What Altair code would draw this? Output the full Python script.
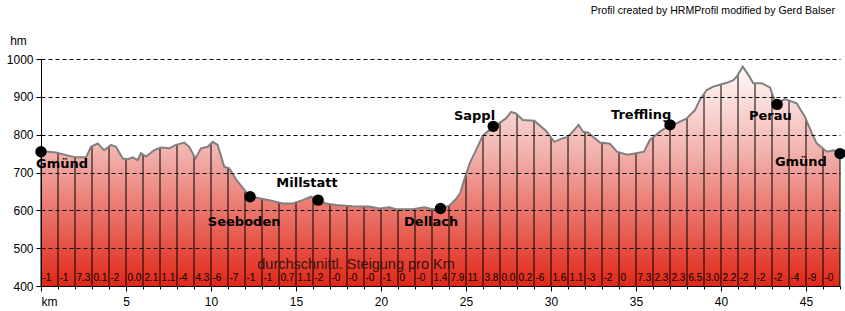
import altair as alt
import pandas as pd
import numpy as np

# ---- profile (km, elevation in m) ----
prof_km = [0.0, 0.88, 1.66, 2.06, 2.65, 2.94, 3.34, 3.71, 4.12, 4.41,
           4.81, 5.1, 5.39, 5.69, 5.88, 6.18, 6.66, 7.06, 7.55, 7.94,
           8.43, 8.72, 9.08, 9.41, 9.81, 10.1, 10.39, 10.78, 11.08, 11.47,
           11.82, 12.25, 12.84, 13.43, 14.22, 14.81, 15.39, 15.88, 16.28, 16.76,
           17.35, 18.34, 19.31, 19.9, 20.49, 20.88, 21.86, 22.55, 23.04, 23.53,
           24.06, 24.41, 24.65, 24.94, 25.24, 25.59, 25.98, 26.37, 26.66, 27.06,
           27.35, 27.65, 27.94, 28.34, 29.02, 29.71, 30.19, 30.59, 30.98, 31.28,
           31.62, 31.88, 32.18, 32.88, 33.47, 33.88, 34.47, 35.0, 35.47, 35.82,
           36.41, 37.0, 37.39, 37.98, 38.47, 38.76, 39.16, 39.55, 40.34, 40.72,
           40.92, 41.28, 41.61, 41.9, 42.39, 42.88, 43.08, 43.28, 43.76, 44.45,
           44.94, 45.34, 45.63, 46.22, 46.61, 47.0]
prof_elev = [757, 753, 744, 740, 740, 768, 777, 759, 773, 768,
             737, 735, 740, 733, 751, 742, 759, 766, 764, 773,
             779, 768, 737, 764, 768, 781, 773, 715, 711, 682,
             662, 638, 632, 627, 618, 618, 627, 636, 627, 618,
             614, 611, 610, 605, 608, 603, 603, 608, 603, 603,
             614, 630, 645, 687, 727, 759, 797, 812, 823, 834,
             843, 860, 856, 839, 837, 810, 781, 789, 794, 808,
             826, 808, 805, 779, 776, 755, 747, 751, 755, 786,
             808, 826, 830, 843, 865, 892, 918, 927, 937, 944,
             953, 980, 958, 936, 936, 925, 900, 883, 894, 883,
             847, 804, 777, 755, 759, 751]

# ---- average gradient per km (labels) ----
grad_labels = ["-1", "-1", "7.3", "0.1", "-2", "0.0", "2.1", "1.1", "-4", "4.3",
               "-6", "-7", "-1", "-1", "0.7", "1.1", "-2", "-0", "-0", "-0",
               "-1", "0", "-0", "1.4", "7.9", "11", "3.8", "0.0", "0.2", "-6",
               "1.6", "1.1", "-3", "-2", "0", "7.3", "2.3", "2.3", "6.5", "3.0",
               "2.2", "-2", "-2", "-2", "-4", "-9", "-0"]

# ---- places ----
place_names = ["Gmünd", "Seeboden", "Millstatt", "Dellach", "Sappl", "Treffling", "Perau", "Gmünd"]
place_km = [0.0, 12.3, 16.3, 23.5, 26.6, 37.0, 43.3, 47.0]
place_elev = [755, 636, 627, 605, 822, 826, 880, 750]
label_km = [1.24, 11.95, 15.65, 22.95, 25.5, 35.3, 42.9, 44.7]
label_elev = [722, 568, 672, 568, 849, 853, 849, 728]

prof = pd.DataFrame({"km": prof_km, "elev": prof_elev})
km_int = np.arange(0, 48)
rules = pd.DataFrame({"km": km_int, "elev": np.interp(km_int, prof_km, prof_elev)})
grad = pd.DataFrame({"km": np.arange(0, 47), "lab": grad_labels})
places = pd.DataFrame({"km": place_km, "elev": place_elev, "name": place_names})
labels = pd.DataFrame({"km": label_km, "elev": label_elev, "name": place_names})
note = pd.DataFrame({"t": ["durchschnittl. Steigung pro Km"]})

x_scale = alt.Scale(domain=[0, 47], nice=False, zero=False)
y_scale = alt.Scale(domain=[400, 1000], nice=False, zero=False)

x_axis = alt.Axis(
    values=list(range(48)),
    labelExpr="datum.value == 0 ? 'km' : (datum.value % 5 == 0 ? datum.label : '')",
    tickSize={"condition": {"test": "datum.value % 5 == 0", "value": 5}, "value": 3},
    grid=False, domainColor="black", tickColor="black",
    labelFont="Liberation Sans", labelFontSize=12, labelColor="black",
    labelPadding=5, labelFlush=True, title=None,
)
y_axis = alt.Axis(
    values=[400, 500, 600, 700, 800, 900, 1000], format="d",
    grid=True, gridDash=[4, 3], gridColor="black", gridOpacity=1, gridWidth=1,
    tickSize=5, tickColor="black", domainColor="black",
    labelFont="Liberation Sans", labelFontSize=12, labelColor="black", labelPadding=3,
    title="hm", titleAngle=0, titleX=-23, titleY=-19, titleAlign="center",
    titleBaseline="middle", titleFont="Liberation Sans", titleFontSize=12,
    titleFontWeight="normal", titleColor="black", zindex=1,
)

X = alt.X("km:Q", scale=x_scale, axis=x_axis)
Y = alt.Y("elev:Q", scale=y_scale, axis=y_axis)

fill = alt.Gradient(
    gradient="linear",
    stops=[alt.GradientStop(color="#fffafa", offset=0),
           alt.GradientStop(color="#f2b0ab", offset=0.4),
           alt.GradientStop(color="#e02818", offset=1)],
    x1=1, x2=1, y1=0, y2=1,
)

area = alt.Chart(prof).mark_area(color=fill).encode(x=X, y=Y, y2=alt.datum(400))
vrules = alt.Chart(rules).mark_rule(color="black", strokeWidth=1).encode(x=X, y=Y, y2=alt.datum(400))
outline = alt.Chart(prof).mark_line(color="#808080", strokeWidth=2).encode(x=X, y=Y)
gtext = alt.Chart(grad).mark_text(
    align="left", baseline="middle", dx=1.5, fontSize=10, font="Liberation Sans", color="black"
).encode(x=X, y=alt.value(219), text="lab:N")
ntext = alt.Chart(note).mark_text(
    align="center", baseline="middle", fontSize=14.5, font="Liberation Sans", color="#3a1010"
).encode(x=alt.value(315), y=alt.value(206), text="t:N")
dots = alt.Chart(places).mark_circle(size=130, color="black", opacity=1).encode(x=X, y=Y)
ptext = alt.Chart(labels).mark_text(
    align="center", baseline="middle", font="DejaVu Sans", fontWeight="bold", fontSize=13, color="black"
).encode(x=X, y=Y, text="name:N")

chart = alt.layer(area, vrules, outline, gtext, ntext, dots, ptext).properties(
    width=799, height=227,
    padding={"left": 41, "top": 59, "right": 5, "bottom": 25},
    autosize=alt.AutoSizeParams(type="none"),
    background="white",
    title=alt.TitleParams(
        "Profil created by HRMProfil modified by Gerd Balser",
        anchor="end", frame="group", fontSize=10.6, font="Liberation Sans", fontWeight="normal",
        color="black", offset=17, dx=-5,
    ),
).configure_view(stroke=None)

chart.save("out.html", embed_options={"renderer": "svg", "actions": False})
